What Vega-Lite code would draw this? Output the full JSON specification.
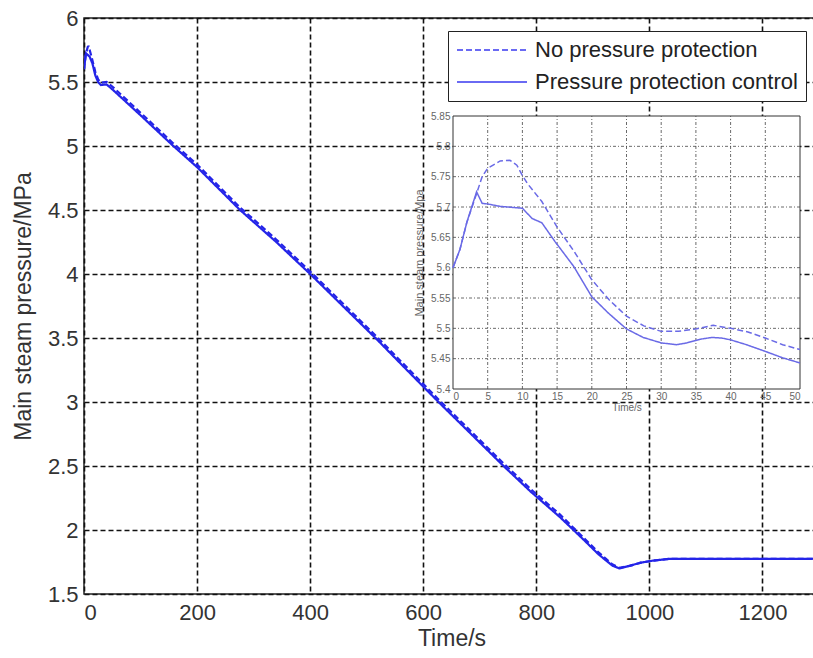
{
  "$schema": "https://vega.github.io/schema/vega-lite/v6.json",
  "width": 735,
  "height": 576,
  "autosize": {"type": "none"},
  "padding": {"left": 84, "top": 18, "right": 0, "bottom": 64},
  "background": "white",
  "config": {
    "font": "Liberation Sans",
    "view": {"stroke": "#222", "strokeWidth": 1.5}
  },
  "datasets": {
    "main": [
      {"series": "No pressure protection", "t": 0, "p": 5.6},
      {"series": "No pressure protection", "t": 3.4, "p": 5.722},
      {"series": "No pressure protection", "t": 6.8, "p": 5.776},
      {"series": "No pressure protection", "t": 8.2, "p": 5.777},
      {"series": "No pressure protection", "t": 10, "p": 5.752},
      {"series": "No pressure protection", "t": 15, "p": 5.667},
      {"series": "No pressure protection", "t": 20, "p": 5.58},
      {"series": "No pressure protection", "t": 25, "p": 5.52},
      {"series": "No pressure protection", "t": 30, "p": 5.495},
      {"series": "No pressure protection", "t": 40, "p": 5.5},
      {"series": "No pressure protection", "t": 50, "p": 5.465},
      {"series": "No pressure protection", "t": 100, "p": 5.26},
      {"series": "No pressure protection", "t": 158, "p": 5.02},
      {"series": "No pressure protection", "t": 200, "p": 4.855},
      {"series": "No pressure protection", "t": 276, "p": 4.52},
      {"series": "No pressure protection", "t": 340, "p": 4.27},
      {"series": "No pressure protection", "t": 400, "p": 4.02},
      {"series": "No pressure protection", "t": 460, "p": 3.76},
      {"series": "No pressure protection", "t": 520, "p": 3.5},
      {"series": "No pressure protection", "t": 580, "p": 3.23},
      {"series": "No pressure protection", "t": 627, "p": 3.02},
      {"series": "No pressure protection", "t": 680, "p": 2.79},
      {"series": "No pressure protection", "t": 742, "p": 2.52},
      {"series": "No pressure protection", "t": 790, "p": 2.32},
      {"series": "No pressure protection", "t": 842, "p": 2.12},
      {"series": "No pressure protection", "t": 880, "p": 1.955},
      {"series": "No pressure protection", "t": 910, "p": 1.825},
      {"series": "No pressure protection", "t": 935, "p": 1.73},
      {"series": "No pressure protection", "t": 947, "p": 1.705},
      {"series": "No pressure protection", "t": 965, "p": 1.72},
      {"series": "No pressure protection", "t": 985, "p": 1.745},
      {"series": "No pressure protection", "t": 1005, "p": 1.76},
      {"series": "No pressure protection", "t": 1036, "p": 1.775},
      {"series": "No pressure protection", "t": 1300, "p": 1.775},
      {"series": "Pressure protection control", "t": 0, "p": 5.6},
      {"series": "Pressure protection control", "t": 3.4, "p": 5.725},
      {"series": "Pressure protection control", "t": 10, "p": 5.698},
      {"series": "Pressure protection control", "t": 15, "p": 5.643},
      {"series": "Pressure protection control", "t": 20, "p": 5.552},
      {"series": "Pressure protection control", "t": 25, "p": 5.499},
      {"series": "Pressure protection control", "t": 30, "p": 5.476},
      {"series": "Pressure protection control", "t": 40, "p": 5.481},
      {"series": "Pressure protection control", "t": 50, "p": 5.443},
      {"series": "Pressure protection control", "t": 100, "p": 5.24},
      {"series": "Pressure protection control", "t": 158, "p": 5.0},
      {"series": "Pressure protection control", "t": 200, "p": 4.835},
      {"series": "Pressure protection control", "t": 276, "p": 4.5},
      {"series": "Pressure protection control", "t": 340, "p": 4.25},
      {"series": "Pressure protection control", "t": 400, "p": 4.0},
      {"series": "Pressure protection control", "t": 460, "p": 3.74},
      {"series": "Pressure protection control", "t": 520, "p": 3.48},
      {"series": "Pressure protection control", "t": 580, "p": 3.21},
      {"series": "Pressure protection control", "t": 627, "p": 3.0},
      {"series": "Pressure protection control", "t": 680, "p": 2.77},
      {"series": "Pressure protection control", "t": 742, "p": 2.5},
      {"series": "Pressure protection control", "t": 790, "p": 2.3},
      {"series": "Pressure protection control", "t": 842, "p": 2.1},
      {"series": "Pressure protection control", "t": 880, "p": 1.94},
      {"series": "Pressure protection control", "t": 910, "p": 1.81},
      {"series": "Pressure protection control", "t": 935, "p": 1.72},
      {"series": "Pressure protection control", "t": 947, "p": 1.7},
      {"series": "Pressure protection control", "t": 965, "p": 1.72},
      {"series": "Pressure protection control", "t": 985, "p": 1.745},
      {"series": "Pressure protection control", "t": 1005, "p": 1.76},
      {"series": "Pressure protection control", "t": 1036, "p": 1.775},
      {"series": "Pressure protection control", "t": 1300, "p": 1.775}
    ],
    "inset": [
      {"series": "No pressure protection", "t": 0, "p": 5.6},
      {"series": "No pressure protection", "t": 1, "p": 5.63},
      {"series": "No pressure protection", "t": 2, "p": 5.675},
      {"series": "No pressure protection", "t": 3.4, "p": 5.722},
      {"series": "No pressure protection", "t": 4.2, "p": 5.75},
      {"series": "No pressure protection", "t": 5, "p": 5.764},
      {"series": "No pressure protection", "t": 6.8, "p": 5.776},
      {"series": "No pressure protection", "t": 8.2, "p": 5.777},
      {"series": "No pressure protection", "t": 9.2, "p": 5.769},
      {"series": "No pressure protection", "t": 10, "p": 5.752},
      {"series": "No pressure protection", "t": 10.7, "p": 5.739},
      {"series": "No pressure protection", "t": 12.8, "p": 5.709},
      {"series": "No pressure protection", "t": 15, "p": 5.667},
      {"series": "No pressure protection", "t": 17.5, "p": 5.626},
      {"series": "No pressure protection", "t": 20, "p": 5.58},
      {"series": "No pressure protection", "t": 22.5, "p": 5.547},
      {"series": "No pressure protection", "t": 25, "p": 5.52},
      {"series": "No pressure protection", "t": 27.5, "p": 5.504},
      {"series": "No pressure protection", "t": 30, "p": 5.495},
      {"series": "No pressure protection", "t": 32.5, "p": 5.495},
      {"series": "No pressure protection", "t": 35, "p": 5.499},
      {"series": "No pressure protection", "t": 37.5, "p": 5.505},
      {"series": "No pressure protection", "t": 40, "p": 5.5},
      {"series": "No pressure protection", "t": 42.5, "p": 5.494},
      {"series": "No pressure protection", "t": 45, "p": 5.484},
      {"series": "No pressure protection", "t": 47.5, "p": 5.473},
      {"series": "No pressure protection", "t": 50, "p": 5.465},
      {"series": "Pressure protection control", "t": 0, "p": 5.6},
      {"series": "Pressure protection control", "t": 1, "p": 5.63},
      {"series": "Pressure protection control", "t": 2, "p": 5.675},
      {"series": "Pressure protection control", "t": 3.4, "p": 5.725},
      {"series": "Pressure protection control", "t": 4.2, "p": 5.706},
      {"series": "Pressure protection control", "t": 5, "p": 5.705},
      {"series": "Pressure protection control", "t": 6.8, "p": 5.701},
      {"series": "Pressure protection control", "t": 10, "p": 5.698},
      {"series": "Pressure protection control", "t": 11.4, "p": 5.681},
      {"series": "Pressure protection control", "t": 12.8, "p": 5.674},
      {"series": "Pressure protection control", "t": 14.7, "p": 5.643},
      {"series": "Pressure protection control", "t": 17.4, "p": 5.602},
      {"series": "Pressure protection control", "t": 20, "p": 5.552},
      {"series": "Pressure protection control", "t": 22.4, "p": 5.525},
      {"series": "Pressure protection control", "t": 25, "p": 5.499},
      {"series": "Pressure protection control", "t": 27.4, "p": 5.485},
      {"series": "Pressure protection control", "t": 30, "p": 5.476},
      {"series": "Pressure protection control", "t": 32.2, "p": 5.473},
      {"series": "Pressure protection control", "t": 33.7, "p": 5.476},
      {"series": "Pressure protection control", "t": 35.6, "p": 5.482},
      {"series": "Pressure protection control", "t": 37.3, "p": 5.485},
      {"series": "Pressure protection control", "t": 38.7, "p": 5.484},
      {"series": "Pressure protection control", "t": 40, "p": 5.481},
      {"series": "Pressure protection control", "t": 42.3, "p": 5.473},
      {"series": "Pressure protection control", "t": 45, "p": 5.462},
      {"series": "Pressure protection control", "t": 47.6, "p": 5.451},
      {"series": "Pressure protection control", "t": 50, "p": 5.443}
    ],
    "insetGridX": [{"t": 5}, {"t": 10}, {"t": 15}, {"t": 20}, {"t": 25}, {"t": 30}, {"t": 35}, {"t": 40}, {"t": 45}],
    "insetGridY": [{"p": 5.45}, {"p": 5.5}, {"p": 5.55}, {"p": 5.6}, {"p": 5.65}, {"p": 5.7}, {"p": 5.75}, {"p": 5.8}]
  },
  "layer": [
    {
      "data": {"name": "main"},
      "mark": {"type": "line", "color": "#2424e8", "strokeWidth": 2.2, "clip": true},
      "encoding": {
        "x": {
          "field": "t", "type": "quantitative",
          "scale": {"domain": [0, 1300], "nice": false, "zero": false},
          "axis": {
            "values": [0, 200, 400, 600, 800, 1000, 1200], "format": "d",
            "title": "Time/s", "grid": true, "gridDash": [5, 3], "gridColor": "#111", "gridWidth": 1.6, "gridOpacity": 1,
            "ticks": false, "tickSize": 0, "domain": false,
            "labelFontSize": 22, "labelColor": "#333", "labelPadding": 8,
            "titleFontSize": 23, "titleFontWeight": "normal", "titleColor": "#333", "titlePadding": 4
          }
        },
        "y": {
          "field": "p", "type": "quantitative",
          "scale": {"domain": [1.5, 6], "nice": false, "zero": false},
          "axis": {
            "values": [1.5, 2, 2.5, 3, 3.5, 4, 4.5, 5, 5.5, 6], "format": "~g",
            "title": "Main steam pressure/MPa", "grid": true, "gridDash": [5, 3], "gridColor": "#111", "gridWidth": 1.6, "gridOpacity": 1,
            "ticks": false, "tickSize": 0, "domain": false,
            "labelFontSize": 22, "labelColor": "#333", "labelPadding": 6,
            "titleFontSize": 23, "titleFontWeight": "normal", "titleColor": "#333", "titlePadding": 12
          }
        },
        "strokeDash": {
          "field": "series", "type": "nominal",
          "scale": {"domain": ["No pressure protection", "Pressure protection control"], "range": [[6, 3], [1, 0]]},
          "legend": {
            "orient": "none", "legendX": 364, "legendY": 13, "title": null,
            "symbolType": "M-1,0H6", "symbolSize": 400, "symbolStrokeWidth": 1.5, "symbolStrokeColor": "#3a3af0",
            "labelFontSize": 22, "labelColor": "#222", "labelOffset": 57, "labelLimit": 0, "rowPadding": 10,
            "padding": 8, "strokeColor": "#222", "fillColor": "white"
          }
        }
      }
    },
    {
      "layer": [
        {
          "data": {"values": [{}]},
          "mark": {"type": "rect", "fill": "white", "stroke": "#333", "strokeWidth": 1},
          "encoding": {
            "x": {
              "datum": 0, "type": "quantitative",
              "scale": {"domain": [0, 50], "range": [369, 716], "nice": false, "zero": false},
              "axis": {
                "orient": "bottom", "offset": -205, "values": [0, 5, 10, 15, 20, 25, 30, 35, 40, 45, 50],
                "grid": false, "ticks": false, "tickSize": 0, "domain": false, "zindex": 1,
                "labelFontSize": 10, "labelColor": "#666", "labelPadding": 2,
                "title": "Time/s", "titleFontSize": 10, "titleFontWeight": "normal", "titleColor": "#666", "titlePadding": 1
              }
            },
            "x2": {"datum": 50},
            "y": {
              "datum": 5.4, "type": "quantitative",
              "scale": {"domain": [5.4, 5.85], "range": [371, 98], "nice": false, "zero": false},
              "axis": {
                "orient": "left", "offset": -369, "values": [5.4, 5.45, 5.5, 5.55, 5.6, 5.65, 5.7, 5.75, 5.8, 5.85], "format": "~g",
                "grid": false, "ticks": false, "tickSize": 0, "domain": false, "zindex": 1,
                "labelFontSize": 10, "labelColor": "#666", "labelPadding": 3,
                "title": "Main steam pressure/Mpa", "titleFontSize": 11, "titleFontWeight": "normal", "titleColor": "#666", "titlePadding": 6
              }
            },
            "y2": {"datum": 5.85}
          }
        },
        {
          "data": {"name": "insetGridX"},
          "mark": {"type": "rule", "color": "#444", "strokeWidth": 0.8, "strokeDash": [3, 2, 1, 2]},
          "encoding": {
            "x": {"field": "t", "type": "quantitative", "scale": {"domain": [0, 50], "range": [369, 716], "nice": false, "zero": false}},
            "y": {"datum": 5.4, "type": "quantitative", "scale": {"domain": [5.4, 5.85], "range": [371, 98], "nice": false, "zero": false}},
            "y2": {"datum": 5.85}
          }
        },
        {
          "data": {"name": "insetGridY"},
          "mark": {"type": "rule", "color": "#444", "strokeWidth": 0.8, "strokeDash": [3, 2, 1, 2]},
          "encoding": {
            "y": {"field": "p", "type": "quantitative", "scale": {"domain": [5.4, 5.85], "range": [371, 98], "nice": false, "zero": false}},
            "x": {"datum": 0, "type": "quantitative", "scale": {"domain": [0, 50], "range": [369, 716], "nice": false, "zero": false}},
            "x2": {"datum": 50}
          }
        },
        {
          "data": {"name": "inset"},
          "mark": {"type": "line", "color": "#6a6ae6", "strokeWidth": 1.5},
          "encoding": {
            "x": {"field": "t", "type": "quantitative", "scale": {"domain": [0, 50], "range": [369, 716], "nice": false, "zero": false}},
            "y": {"field": "p", "type": "quantitative", "scale": {"domain": [5.4, 5.85], "range": [371, 98], "nice": false, "zero": false}},
            "strokeDash": {"field": "series", "type": "nominal", "legend": null}
          }
        }
      ]
    }
  ],
  "resolve": {"scale": {"x": "independent", "y": "independent"}}
}
